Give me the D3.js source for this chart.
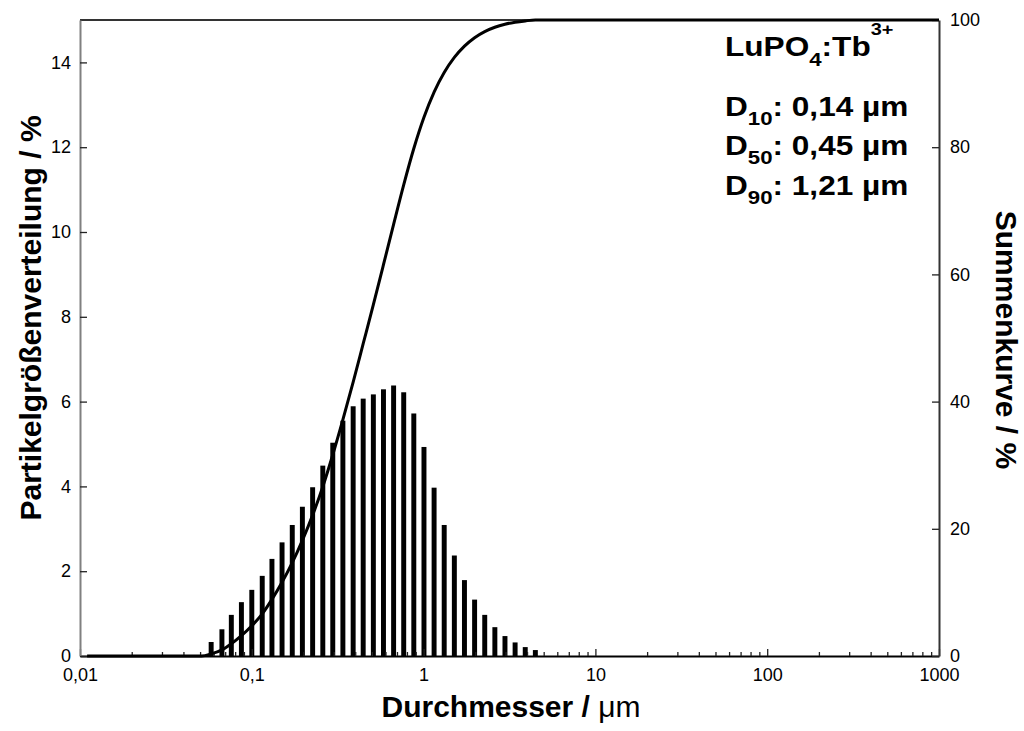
<!DOCTYPE html>
<html>
<head>
<meta charset="utf-8">
<script src="https://cdn.jsdelivr.net/npm/d3@7"></script>
<style>
  body { margin: 0; background: #fff; }
  svg { font-family: "Liberation Sans", Arial, sans-serif; }
</style>
</head>
<body>
<div id="psdContainer"></div>
<script>

var psdConfig = {
  w: 1024,
  h: 731,
  left: 80,
  right: 939,
  top: 20,
  bot: 656
}

// bin centres in um and the measured share per bin in %
var binSizes = [0.058, 0.067, 0.076, 0.087, 0.100, 0.115, 0.131, 0.150, 0.172, 0.197,
                0.226, 0.259, 0.296, 0.339, 0.389, 0.445, 0.510, 0.584, 0.669, 0.766,
                0.877, 1.005, 1.151, 1.318, 1.510, 1.729, 1.981, 2.269, 2.599, 2.976,
                3.409, 3.905, 4.472];
var binPercent = [0.33, 0.63, 0.97, 1.27, 1.56, 1.89, 2.29, 2.68, 3.09, 3.52,
                  3.98, 4.49, 5.03, 5.55, 5.89, 6.07, 6.17, 6.29, 6.38, 6.22,
                  5.72, 4.93, 3.97, 3.09, 2.37, 1.79, 1.33, 0.97, 0.68, 0.47,
                  0.32, 0.21, 0.14];

// cumulative curve (Summenkurve), read at the same bins plus the flat ends
var curveSizes = [0.011, 0.044, 0.051].concat(binSizes).concat([1000]);
var curvePercent = [0, 0, 0,
                    0.33, 0.96, 1.92, 3.19, 4.75, 6.63, 8.91, 11.59, 14.67, 18.18,
                    22.15, 26.62, 31.64, 37.17, 43.05, 49.10, 55.25, 61.52, 67.88, 74.08,
                    79.79, 84.70, 88.66, 91.74, 94.11, 95.89, 97.22, 98.18, 98.86, 99.33,
                    99.65, 99.86, 100,
                    100];

var xTickValues = [0.01, 0.1, 1, 10, 100, 1000];
var xTickLabels = ["0,01", "0,1", "1", "10", "100", "1000"];
var leftTicks = [0, 2, 4, 6, 8, 10, 12, 14];
var rightTicks = [0, 20, 40, 60, 80, 100];

var svg = d3.select("#psdContainer").append("svg")
  .attr("width", psdConfig.w)
  .attr("height", psdConfig.h);

var x = d3.scaleLog()
  .domain([0.01, 1000])
  .range([psdConfig.left, psdConfig.right]);

var yL = d3.scaleLinear()
  .domain([0, 15])
  .range([psdConfig.bot, psdConfig.top]);

var yR = d3.scaleLinear()
  .domain([0, 100])
  .range([psdConfig.bot, psdConfig.top]);

// minor ticks 2..9 for each decade
var minorTicks = [];
xTickValues.slice(0, -1).forEach(function(dec) {
  for (var k = 2; k < 10; k++) minorTicks.push(dec * k);
});

// bars
var step = x(binSizes[1]) - x(binSizes[0]);
var barW = step * 0.46;

svg.append("g").attr("class", "bars")
  .selectAll("rect")
  .data(binSizes)
  .enter().append("rect")
  .attr("x", function(d) { return x(d) - barW / 2; })
  .attr("y", function(d, i) { return yL(binPercent[i]); })
  .attr("width", barW)
  .attr("height", function(d, i) { return yL(0) - yL(binPercent[i]); })
  .style("fill", "#000");

// top frame
svg.append("line")
  .attr("x1", psdConfig.left).attr("x2", psdConfig.right)
  .attr("y1", psdConfig.top).attr("y2", psdConfig.top)
  .style("stroke", "#333").style("stroke-width", 1.8);

// axes
var xAxis = svg.append("g")
  .attr("transform", "translate(0," + psdConfig.bot + ")")
  .call(d3.axisBottom(x)
    .tickValues(xTickValues)
    .tickFormat(function(d, i) { return xTickLabels[i]; })
    .tickSizeInner(-7).tickSizeOuter(0).tickPadding(12));

var xMinor = svg.append("g")
  .attr("transform", "translate(0," + psdConfig.bot + ")")
  .call(d3.axisBottom(x)
    .tickValues(minorTicks)
    .tickFormat("")
    .tickSizeInner(-4).tickSizeOuter(0));
xMinor.select(".domain").remove();

var leftAxis = svg.append("g")
  .attr("transform", "translate(" + psdConfig.left + ",0)")
  .call(d3.axisLeft(yL)
    .tickValues(leftTicks)
    .tickSizeInner(-7).tickSizeOuter(0).tickPadding(9));

var rightAxis = svg.append("g")
  .attr("transform", "translate(" + psdConfig.right + ",0)")
  .call(d3.axisRight(yR)
    .tickValues(rightTicks)
    .tickSizeInner(-7).tickSizeOuter(0).tickPadding(11));

[xAxis, xMinor, leftAxis, rightAxis].forEach(function(a) {
  a.selectAll("text")
    .style("font-family", "'Liberation Sans', Arial, sans-serif")
    .style("font-size", "18px")
    .style("fill", "#000");
  a.selectAll("line").style("stroke", "#222").style("stroke-width", 1.3);
});
xAxis.select(".domain").style("stroke", "#000").style("stroke-width", 2);
leftAxis.select(".domain").style("stroke", "#808080").style("stroke-width", 2);
rightAxis.select(".domain").style("stroke", "#333").style("stroke-width", 2);

// cumulative curve
var line = d3.line()
  .x(function(d) { return x(d); })
  .y(function(d, i) { return yR(curvePercent[i]); })
  .curve(d3.curveMonotoneX);

svg.append("path")
  .datum(curveSizes)
  .attr("d", line)
  .style("fill", "none")
  .style("stroke", "#000")
  .style("stroke-width", 3);

// axis titles
svg.append("text")
  .attr("x", 511).attr("y", 717)
  .attr("text-anchor", "middle")
  .style("font-size", "30px").style("font-weight", "bold")
  .text("Durchmesser / ")
  .append("tspan").style("font-weight", "normal").text("\u03bcm");

svg.append("text")
  .attr("transform", "translate(41,318) rotate(-90)")
  .attr("text-anchor", "middle")
  .style("font-size", "30px").style("font-weight", "bold")
  .text("Partikelgr\u00f6\u00dfenverteilung / %");

svg.append("text")
  .attr("transform", "translate(996,340) rotate(90)")
  .attr("text-anchor", "middle")
  .style("font-size", "30px").style("font-weight", "bold")
  .text("Summenkurve / %");

// annotation
var note = svg.append("g")
  .attr("transform", "translate(725,0) scale(1.17,1)")
  .style("font-weight", "bold");

var t1 = note.append("text").attr("x", 0).attr("y", 56).style("font-size", "27px");
t1.append("tspan").text("LuPO");
t1.append("tspan").attr("dy", 10).style("font-size", "19px").text("4");
t1.append("tspan").attr("dy", -10).text(":Tb");
t1.append("tspan").attr("dy", -21).style("font-size", "17px").text("3+");

var dLines = [["10", "0,14"], ["50", "0,45"], ["90", "1,21"]];
dLines.forEach(function(d, i) {
  var t = note.append("text").attr("x", 0).attr("y", 116 + i * 39.5).style("font-size", "27px");
  t.append("tspan").text("D");
  t.append("tspan").attr("dy", 9).style("font-size", "19px").text(d[0]);
  t.append("tspan").attr("dy", -9).text(": " + d[1] + " \u00b5m");
});

</script>
</body>
</html>
